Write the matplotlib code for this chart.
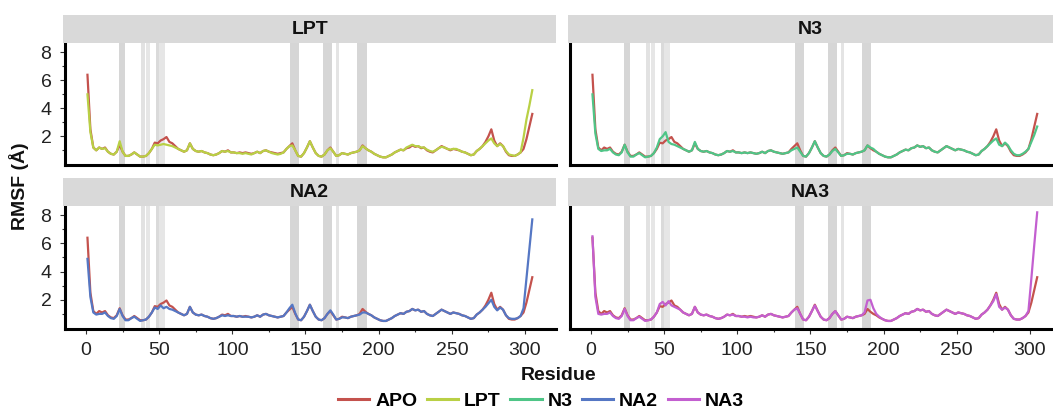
import matplotlib
matplotlib.use("Agg")
import matplotlib.pyplot as plt
from matplotlib.lines import Line2D

plt.rcParams['font.family'] = ['Liberation Sans', 'DejaVu Sans']

# residue numbers (every second residue)
residues = list(range(1, 306, 2))

apo = [6.4, 2.5, 1.2, 1.0, 1.2, 1.1, 1.2, 0.9, 0.75, 0.7,
       0.9, 1.4, 0.9, 0.6, 0.6, 0.7, 0.85, 0.7, 0.55, 0.55,
       0.6, 0.8, 1.1, 1.55, 1.5, 1.7, 1.8, 1.95, 1.6, 1.5,
       1.3, 1.1, 1.0, 0.9, 1.0, 1.5, 1.1, 0.95, 0.9, 0.95,
       0.85, 0.8, 0.7, 0.65, 0.7, 0.8, 0.95, 0.9, 1.0, 0.85,
       0.85, 0.8, 0.85, 0.8, 0.85, 0.8, 0.75, 0.8, 0.9, 0.8,
       0.95, 1.0, 0.9, 0.85, 0.8, 0.75, 0.8, 0.85, 1.1, 1.3,
       1.5, 1.0, 0.6, 0.55, 0.8, 1.2, 1.65, 1.2, 0.8, 0.6,
       0.55, 0.7, 1.0, 1.2, 0.9, 0.6, 0.65, 0.8, 0.75, 0.7,
       0.8, 0.85, 0.9, 1.0, 1.35, 1.15, 1.0, 0.9, 0.75, 0.65,
       0.55, 0.5, 0.5, 0.6, 0.7, 0.85, 0.95, 1.05, 1.0, 1.15,
       1.2, 1.35, 1.25, 1.3, 1.15, 1.2, 1.0, 0.9, 0.85, 1.0,
       1.15, 1.3, 1.2, 1.1, 1.0, 1.1, 1.05, 1.0, 0.9, 0.85,
       0.75, 0.65, 0.7, 0.95, 1.1, 1.3, 1.6, 2.0, 2.5, 1.7,
       1.3, 1.5, 1.3, 0.9, 0.65, 0.6, 0.6, 0.7, 0.85, 1.1,
       1.8, 2.7, 3.6]

lpt = [5.0, 2.3, 1.2, 1.0, 1.2, 1.1, 1.15, 0.9, 0.75, 0.7,
       0.9, 1.65, 0.9, 0.6, 0.6, 0.7, 0.85, 0.7, 0.55, 0.55,
       0.6, 0.8, 1.1, 1.4, 1.35, 1.4, 1.45, 1.4, 1.35, 1.3,
       1.2, 1.1, 1.0, 0.9, 1.0, 1.5, 1.1, 0.95, 0.9, 0.95,
       0.85, 0.8, 0.7, 0.65, 0.7, 0.8, 0.95, 0.9, 0.95, 0.85,
       0.85, 0.8, 0.8, 0.75, 0.8, 0.75, 0.7, 0.8, 0.9, 0.8,
       0.95, 1.0, 0.9, 0.8, 0.75, 0.7, 0.75, 0.85, 1.1, 1.3,
       1.35, 1.0, 0.6, 0.55, 0.8, 1.2, 1.65, 1.2, 0.8, 0.6,
       0.55, 0.7, 1.0, 1.15, 0.9, 0.6, 0.65, 0.8, 0.75, 0.7,
       0.8, 0.85, 0.9, 1.0, 1.3, 1.15, 1.0, 0.9, 0.75, 0.65,
       0.55, 0.5, 0.5, 0.6, 0.7, 0.85, 0.95, 1.05, 1.0, 1.2,
       1.3, 1.4, 1.3, 1.3, 1.2, 1.2, 1.05, 0.95, 0.9, 1.0,
       1.15, 1.25, 1.2, 1.1, 1.05, 1.1, 1.1, 1.0, 0.9, 0.85,
       0.75, 0.65, 0.7, 0.95, 1.1, 1.3, 1.5, 1.7, 1.85, 1.5,
       1.3, 1.45, 1.3, 0.95, 0.7, 0.65, 0.6, 0.7, 0.85, 1.9,
       3.2, 4.2, 5.3]

n3 = [5.0, 2.2, 1.1, 0.95, 1.0, 1.0, 1.1, 0.85, 0.7, 0.65,
      0.85, 1.4, 0.85, 0.55, 0.55, 0.7, 0.8, 0.65, 0.5, 0.55,
      0.6, 0.8, 1.2, 1.8, 2.0, 2.3, 1.6, 1.45, 1.4, 1.3,
      1.2, 1.1, 1.0, 0.9, 1.0, 1.6, 1.1, 0.95, 0.9, 0.95,
      0.85, 0.8, 0.7, 0.65, 0.7, 0.8, 0.95, 0.9, 0.95, 0.85,
      0.85, 0.8, 0.85, 0.8, 0.85, 0.8, 0.75, 0.8, 0.9, 0.8,
      0.95, 1.0, 0.9, 0.85, 0.8, 0.75, 0.8, 0.85, 1.0, 1.1,
      1.2, 0.9, 0.6, 0.55, 0.8, 1.2, 1.65, 1.2, 0.8, 0.6,
      0.55, 0.7, 0.95, 1.1, 0.85, 0.6, 0.65, 0.75, 0.75, 0.7,
      0.8, 0.85, 0.9, 1.0, 1.35, 1.2, 1.1, 0.9, 0.75, 0.65,
      0.55, 0.5, 0.5, 0.6, 0.7, 0.85, 0.95, 1.05, 1.0, 1.15,
      1.2, 1.35, 1.25, 1.3, 1.15, 1.2, 1.0, 0.9, 0.85, 1.0,
      1.15, 1.3, 1.2, 1.1, 1.0, 1.1, 1.05, 1.0, 0.9, 0.85,
      0.75, 0.65, 0.7, 0.95, 1.1, 1.3, 1.5, 1.7, 1.85, 1.4,
      1.3, 1.55, 1.35, 1.0, 0.75, 0.65, 0.65, 0.75, 0.9, 1.1,
      1.6, 2.1, 2.7]

na2 = [4.9, 2.2, 1.1, 0.95, 1.0, 1.0, 1.1, 0.85, 0.7, 0.65,
       0.85, 1.35, 0.85, 0.55, 0.55, 0.7, 0.8, 0.65, 0.5, 0.55,
       0.6, 0.8, 1.1, 1.45, 1.35, 1.6, 1.4, 1.5, 1.35, 1.3,
       1.2, 1.1, 1.0, 0.9, 1.0, 1.5, 1.1, 0.95, 0.9, 0.95,
       0.85, 0.8, 0.7, 0.65, 0.7, 0.8, 0.9, 0.85, 0.9, 0.85,
       0.85, 0.8, 0.85, 0.8, 0.8, 0.8, 0.75, 0.8, 0.9, 0.8,
       0.95, 1.0, 0.9, 0.85, 0.8, 0.75, 0.8, 0.85, 1.1, 1.4,
       1.65, 1.05, 0.6, 0.55, 0.8, 1.2, 1.65, 1.2, 0.8, 0.6,
       0.55, 0.7, 1.0, 1.25, 0.95, 0.6, 0.65, 0.75, 0.75, 0.7,
       0.8, 0.85, 0.9, 0.95, 1.1, 1.1, 1.0, 0.9, 0.75, 0.65,
       0.55, 0.5, 0.5, 0.6, 0.7, 0.85, 0.95, 1.05, 1.0, 1.15,
       1.2, 1.35, 1.25, 1.3, 1.15, 1.2, 1.0, 0.9, 0.85, 1.0,
       1.15, 1.3, 1.2, 1.1, 1.0, 1.1, 1.05, 1.0, 0.9, 0.85,
       0.75, 0.65, 0.7, 0.95, 1.1, 1.3, 1.5, 1.75, 2.0, 1.5,
       1.25, 1.45, 1.3, 0.9, 0.7, 0.65, 0.65, 0.7, 0.85, 1.4,
       3.5, 5.6, 7.7]

na3 = [6.5, 2.2, 1.0, 0.95, 1.0, 1.0, 1.1, 0.85, 0.7, 0.65,
       0.85, 1.35, 0.85, 0.55, 0.55, 0.7, 0.8, 0.65, 0.5, 0.55,
       0.6, 0.8, 1.1, 1.7, 1.85, 1.6, 1.9, 1.6, 1.5, 1.4,
       1.3, 1.1, 1.0, 0.9, 1.0, 1.5, 1.1, 0.95, 0.9, 0.95,
       0.85, 0.8, 0.7, 0.65, 0.7, 0.8, 0.95, 0.9, 0.95, 0.85,
       0.85, 0.8, 0.8, 0.75, 0.8, 0.75, 0.75, 0.8, 0.9, 0.8,
       0.95, 1.0, 0.9, 0.85, 0.8, 0.75, 0.8, 0.85, 1.1, 1.3,
       1.4, 1.0, 0.6, 0.55, 0.8, 1.2, 1.6, 1.2, 0.8, 0.6,
       0.55, 0.7, 1.0, 1.2, 0.9, 0.6, 0.65, 0.8, 0.75, 0.7,
       0.8, 0.85, 0.9, 1.1, 1.95, 2.0, 1.4, 1.0, 0.8, 0.65,
       0.55, 0.5, 0.5, 0.6, 0.7, 0.85, 0.95, 1.05, 1.0, 1.15,
       1.2, 1.35, 1.25, 1.3, 1.15, 1.2, 1.0, 0.9, 0.85, 1.0,
       1.15, 1.3, 1.2, 1.1, 1.0, 1.1, 1.05, 1.0, 0.9, 0.85,
       0.75, 0.65, 0.7, 0.95, 1.1, 1.3, 1.6, 1.9, 2.4, 1.5,
       1.3, 1.45, 1.3, 0.9, 0.65, 0.6, 0.6, 0.7, 0.85, 1.2,
       3.5, 5.9, 8.2]

series_names = ['APO', 'LPT', 'N3', 'NA2', 'NA3']
series_colors = ['#c4524d', '#b9d045', '#4fc587', '#5577c4', '#c35fd0']

# highlighted residue ranges (grey bands)
band_start = [22.6, 37.6, 41.0, 47.6, 49.8, 139.4, 162.2, 171.0, 185.5]
band_end = [26.7, 40.3, 43.5, 49.8, 53.8, 145.6, 167.9, 173.2, 191.7]
band_shade = ['#d6d6d6', '#e2e2e2', '#e6e6e6', '#dadada', '#e6e6e6',
              '#d6d6d6', '#d6d6d6', '#e4e4e4', '#d6d6d6']

W, H = 1053, 409
fig = plt.figure(figsize=(W / 100, H / 100), dpi=100)


def box(x0, y0, x1, y1):
    return [x0 / W, 1 - y1 / H, (x1 - x0) / W, (y1 - y0) / H]


# name, data, colour, axes box, strip box, xlim, bottom row, left col
panels = [
    ('LPT', lpt, series_colors[1], (65, 43.3, 556, 165), (63.3, 15, 556, 43.3), (-14.35, 321.2), False, True),
    ('N3', n3, series_colors[2], (570, 43.3, 1053, 165), (568.3, 15, 1053, 43.3), (-14.35, 315.8), False, False),
    ('NA2', na2, series_colors[3], (65, 206, 556, 328.7), (63.3, 178.3, 556, 206), (-14.35, 321.2), True, True),
    ('NA3', na3, series_colors[4], (570, 206, 1053, 328.7), (568.3, 178.3, 1053, 206), (-14.35, 315.8), True, False),
]

for name, vals, col, abox, sbox, xlim, bottom, left in panels:
    ax = fig.add_axes(box(*abox))
    for s, e, c in zip(band_start, band_end, band_shade):
        ax.axvspan(s, e, color=c, lw=0, zorder=0)
    ax.plot(residues, apo, color=series_colors[0], lw=1.6, zorder=2)
    ax.plot(residues, vals, color=col, lw=1.6, zorder=3)
    ax.set_xlim(*xlim)
    ax.set_ylim(-0.05, 8.65)
    for sp in ['top', 'right']:
        ax.spines[sp].set_visible(False)
    for sp in ['left', 'bottom']:
        ax.spines[sp].set_linewidth(2.2)
        ax.spines[sp].set_color('black')
    ax.set_xticks([0, 50, 100, 150, 200, 250, 300])
    ax.set_xticks([25, 75, 125, 175, 225, 275], minor=True)
    ax.set_yticks([2, 4, 6, 8])
    ax.set_yticks([1, 3, 5, 7], minor=True)
    ax.tick_params(which='major', length=3.8, width=0.8, color='#333333',
                   labelsize=14, labelcolor='#222222', pad=6)
    ax.tick_params(which='minor', length=2.2, width=0.8, color='#333333')
    if not bottom:
        ax.tick_params(axis='x', which='both', bottom=False, labelbottom=False)
    if not left:
        ax.tick_params(axis='y', which='both', left=False, labelleft=False)

    sax = fig.add_axes(box(*sbox))
    sax.set_facecolor('#d9d9d9')
    sax.set_xticks([])
    sax.set_yticks([])
    for sp in sax.spines.values():
        sp.set_visible(False)
    sax.text(0.5, 0.5, name, ha='center', va='center', fontsize=14,
             fontweight='bold', color='#111111', transform=sax.transAxes)

fig.text(19 / W, 1 - 186 / H, 'RMSF (Å)', rotation=90, fontsize=14,
         fontweight='bold', ha='center', va='center', color='#111111')
fig.text(559 / W, 1 - 376 / H, 'Residue', fontsize=14,
         fontweight='bold', ha='center', va='center', color='#111111')

handles = [Line2D([], [], color=c, lw=2.2) for c in series_colors]
fig.legend(handles, series_names, loc='center', bbox_to_anchor=(541 / W, 1 - 401 / H),
           ncol=5, frameon=False, prop={'weight': 'bold', 'size': 14},
           handlelength=1.6, handletextpad=0.3, columnspacing=0.5, borderpad=0)

fig.savefig('out.png', dpi=100)
